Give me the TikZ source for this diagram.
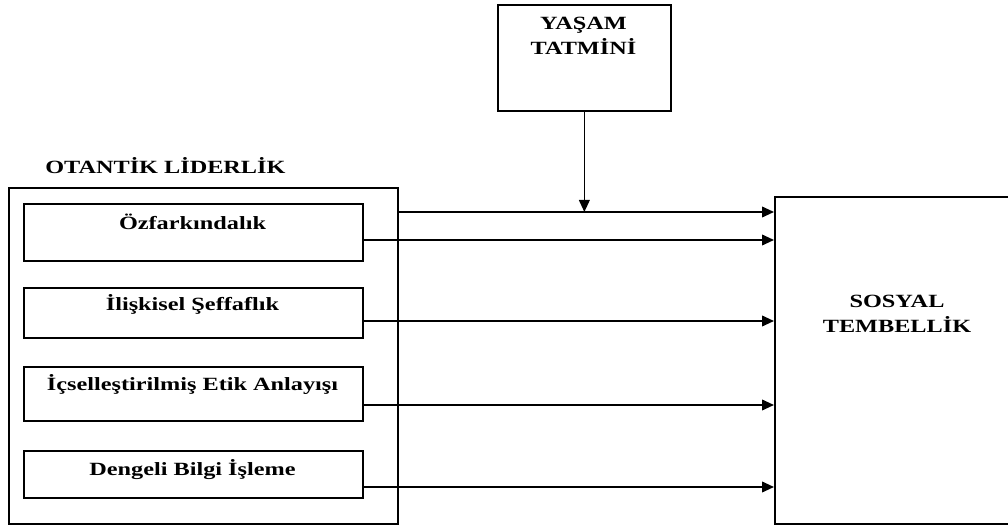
\documentclass[tikz,border=0pt]{standalone}
\usepackage{fontspec}
\setmainfont{Liberation Serif}
\newfontfamily\wideserif[FakeStretch=1.3]{Liberation Serif}
\usetikzlibrary{arrows.meta}
\begin{document}
\begin{tikzpicture}[x=0.75pt,y=-0.75pt,
  box/.style={draw,line width=1.3pt,inner sep=0pt,anchor=north west},
  lbl/.style={inner sep=0pt,font=\wideserif\fontsize{14}{18.75}\selectfont\bfseries,align=center},
  arr/.style={line width=1.3pt,-{Triangle[length=9pt,width=8pt]}}]
\useasboundingbox (0,0) rectangle (1008,527);
\clip (0,0) rectangle (1008,527);
% boxes
\node[box,minimum width=173pt*0.75,minimum height=106pt*0.75] (ys) at (497,4) {};
\node[box,minimum width=389pt*0.75,minimum height=336pt*0.75] (otl) at (8,187) {};
\node[box,minimum width=339pt*0.75,minimum height=57pt*0.75] (b1) at (23,203) {};
\node[box,minimum width=339pt*0.75,minimum height=50pt*0.75] (b2) at (23,287) {};
\node[box,minimum width=339pt*0.75,minimum height=54pt*0.75] (b3) at (23,366) {};
\node[box,minimum width=339pt*0.75,minimum height=47pt*0.75] (b4) at (23,450) {};
\node[box,minimum width=260pt*0.75,minimum height=327pt*0.75] (st) at (774,196) {};
% labels
\node[lbl] (ysl) at (583.5,36) {YAŞAM\\TATMİNİ};
\node[lbl,anchor=west] (otll) at (45,166) {OTANTİK LİDERLİK};
\node[lbl] (b1l) at (192.5,222) {Özfarkındalık};
\node[lbl] (b2l) at (192.5,304) {İlişkisel Şeffaflık};
\node[lbl] (b3l) at (192.5,385) {İçselleştirilmiş Etik Anlayışı};
\node[lbl] (b4l) at (192.5,470) {Dengeli Bilgi İşleme};
\node[lbl] (stl) at (897,314) {SOSYAL\\TEMBELLİK};
% connectors
\draw[arr] (otl.east |- 0,212) -- (st.west |- 0,212);
\draw[arr] (ys.south) -- (ys.south |- 0,212);
\draw[arr] (b1.east |- 0,240) -- (st.west |- 0,240);
\draw[arr] (b2.east |- 0,321) -- (st.west |- 0,321);
\draw[arr] (b3.east |- 0,405) -- (st.west |- 0,405);
\draw[arr] (b4.east |- 0,487) -- (st.west |- 0,487);
\end{tikzpicture}
\end{document}
